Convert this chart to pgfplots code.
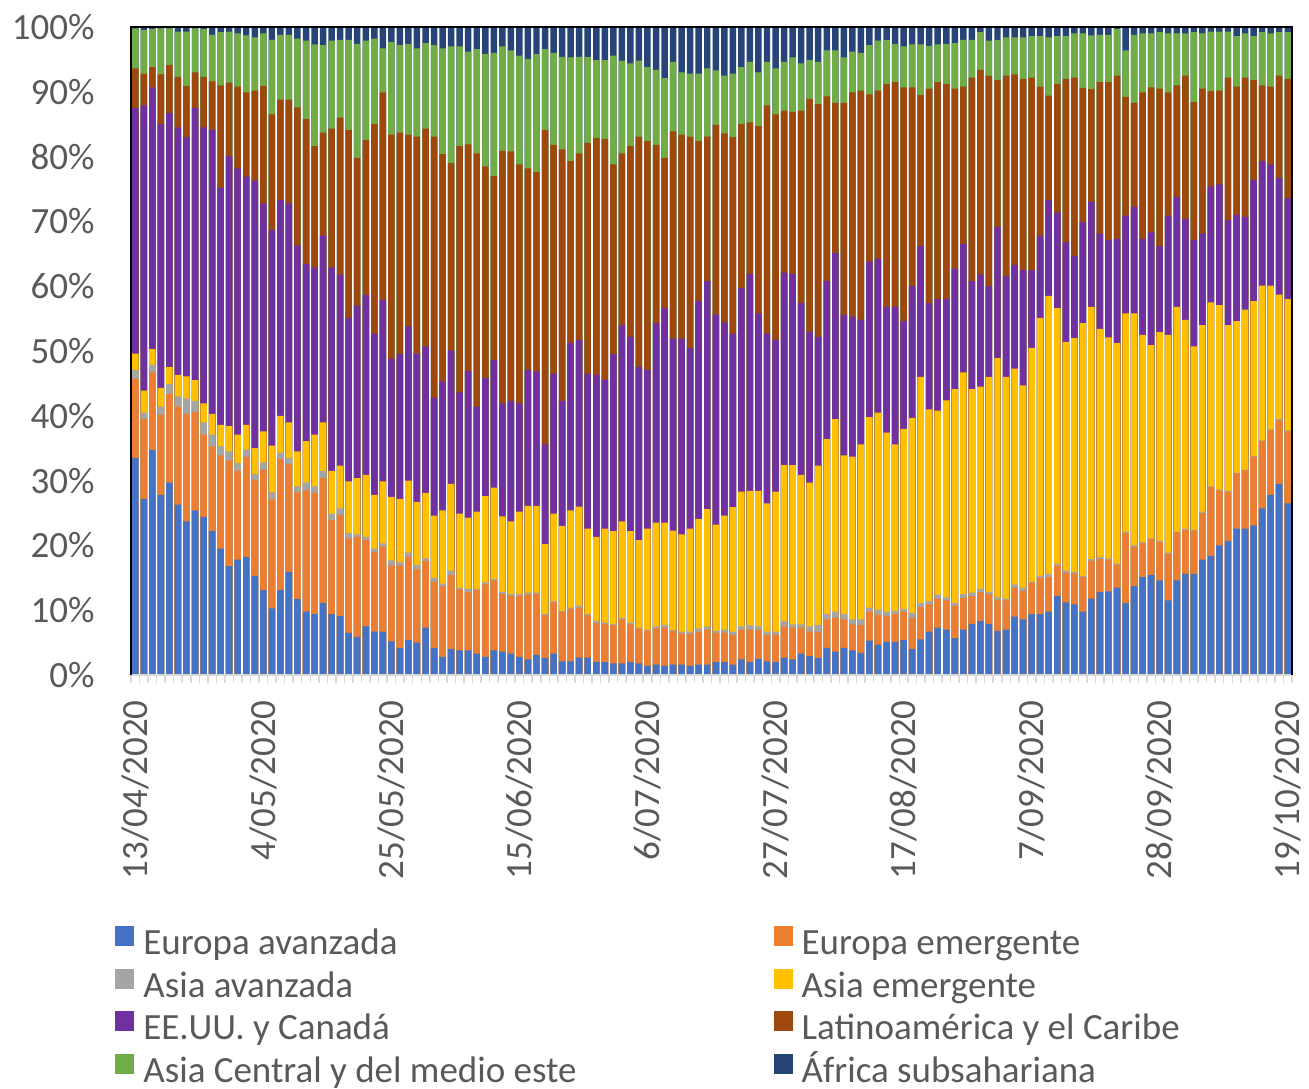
\documentclass[border=0pt]{standalone}
\usepackage{fontspec}
\setmainfont{Carlito}
\usepackage{pgfplots}
\usepackage{pgfplotstable}
\pgfplotsset{compat=1.18}

\definecolor{euav}{HTML}{4472C4}
\definecolor{euem}{HTML}{ED7D31}
\definecolor{asav}{HTML}{A5A5A5}
\definecolor{asem}{HTML}{FFC000}
\definecolor{usca}{HTML}{7030A0}
\definecolor{latam}{HTML}{9E480E}
\definecolor{ascm}{HTML}{70AD47}
\definecolor{afr}{HTML}{264478}
\definecolor{txt}{HTML}{595959}
\definecolor{tickgray}{HTML}{D9D9D9}

% cumulative tops (%) of each band, bottom to top, one row per business day
\pgfplotstableread{
d eav eem aav aem usc lat acm afr
0 33.5 45.7 47.1 49.6 87.5 93.6 99.8 100
1 27.2 39.5 40.5 43.9 87.9 92.8 99.5 100
2 34.7 46.7 47.9 50.3 90.7 93.8 99.7 100
3 27.8 40.2 41.4 44.3 85.0 92.7 99.8 100
4 29.7 43.4 44.9 47.5 86.7 94.1 99.8 100
5 26.3 41.4 43.0 46.3 84.5 92.3 99.3 100
6 23.7 40.3 42.7 46.1 83.0 90.9 99.3 100
7 25.4 40.6 42.3 45.5 87.5 93.0 99.8 100
8 24.4 37.1 39.0 41.9 84.5 92.3 99.7 100
9 22.2 35.3 37.1 40.3 84.1 91.6 98.8 100
10 19.5 33.9 35.3 38.6 75.2 91.0 99.2 100
11 16.8 33.1 34.5 38.4 80.1 91.4 99.3 100
12 17.8 31.5 32.7 37.1 78.2 90.8 99.0 100
13 18.2 33.7 34.8 38.6 76.9 89.9 98.7 100
14 15.3 30.1 31.0 35.0 76.3 90.2 98.4 100
15 13.1 31.7 32.8 37.6 72.8 90.9 99.0 100
16 10.3 27.1 28.2 35.4 68.7 86.5 98.0 100
17 13.1 33.3 34.3 40.0 73.3 88.8 98.8 100
18 15.9 32.5 33.5 39.0 72.8 88.8 98.8 100
19 11.7 28.2 29.1 34.5 66.3 87.6 98.2 100
20 9.8 28.5 29.7 36.1 63.4 85.8 97.9 100
21 9.4 28.1 29.1 37.1 62.9 81.6 97.3 100
22 11.1 30.4 31.5 39.0 67.8 83.7 97.2 100
23 9.4 23.9 24.9 31.5 62.9 84.3 97.9 100
24 9.1 24.7 25.7 32.3 61.8 86.0 98.0 100
25 6.5 21.1 21.9 29.9 55.1 84.1 98.0 100
26 5.9 21.3 21.7 30.4 57.0 79.8 97.4 100
27 7.5 20.8 21.3 30.9 58.7 82.6 97.9 100
28 6.7 19.0 19.5 27.8 52.7 85.0 98.2 100
29 6.7 19.8 20.3 29.9 57.9 89.9 96.7 100
30 5.2 16.9 17.7 27.5 48.8 83.4 97.7 100
31 4.2 16.9 17.4 27.2 49.5 83.7 97.2 100
32 5.4 18.3 18.9 30.0 53.8 83.4 97.4 100
33 5.0 16.3 17.0 26.7 49.6 83.1 96.7 100
34 7.3 17.6 18.0 28.1 50.7 84.3 97.5 100
35 4.2 14.4 15.0 24.6 42.8 83.1 97.2 100
36 2.8 13.7 14.1 25.4 45.3 80.4 96.7 100
37 4.0 15.4 16.1 29.5 50.1 79.0 97.0 100
38 3.8 13.2 13.5 24.9 43.6 81.6 97.0 100
39 3.8 12.8 13.3 24.3 46.9 81.9 96.2 100
40 3.3 13.1 13.3 25.2 41.4 80.5 96.6 100
41 2.8 14.0 14.3 27.6 45.8 78.5 95.8 100
42 3.8 14.6 14.8 28.9 48.6 77.0 96.0 100
43 3.6 12.5 12.8 24.5 41.9 80.9 97.0 100
44 3.3 12.2 12.5 23.7 42.3 80.8 96.4 100
45 2.8 12.2 12.5 25.2 41.9 78.8 95.6 100
46 2.4 12.4 12.7 26.1 47.1 78.2 95.1 100
47 3.1 12.5 12.7 26.1 46.8 77.6 95.8 100
48 2.6 9.2 9.4 20.2 35.6 84.1 96.6 100
49 3.3 11.2 11.4 24.9 46.5 81.8 96.0 100
50 2.1 9.8 9.9 23.0 42.3 81.1 95.4 100
51 2.1 10.2 10.4 25.4 51.2 79.3 95.3 100
52 2.7 10.4 10.7 26.0 51.7 80.5 95.4 100
53 2.7 9.2 9.4 22.6 46.5 82.1 95.4 100
54 2.0 8.0 8.3 21.3 46.3 82.9 94.9 100
55 2.0 7.9 8.1 22.6 45.6 82.7 94.9 100
56 1.8 7.7 7.9 22.2 49.5 78.8 95.6 100
57 1.8 8.6 8.8 23.7 54.0 80.5 94.8 100
58 2.0 7.8 8.1 22.2 52.2 81.6 94.4 100
59 1.8 7.2 7.3 20.8 47.6 83.1 94.8 100
60 1.4 6.8 7.0 22.6 47.1 82.4 93.8 100
61 1.6 7.2 7.5 23.5 54.3 81.8 93.4 100
62 1.4 7.3 7.7 23.5 56.6 79.8 92.1 100
63 1.6 6.8 7.0 22.3 51.9 83.9 94.6 100
64 1.6 6.4 6.7 21.7 51.9 83.4 93.0 100
65 1.4 6.4 6.7 22.6 50.5 83.1 92.8 100
66 1.6 6.7 7.2 24.1 57.7 82.4 92.8 100
67 1.6 7.0 7.5 25.6 60.8 83.1 93.6 100
68 2.0 6.5 6.8 23.2 55.6 84.9 93.3 100
69 2.0 6.5 7.0 24.6 54.4 83.6 92.5 100
70 1.6 6.2 6.7 25.9 52.7 83.0 92.8 100
71 2.4 7.0 7.5 28.3 59.7 85.0 93.8 100
72 2.0 7.0 7.7 28.4 61.9 85.3 94.6 100
73 2.5 7.0 7.5 28.4 55.8 84.7 93.0 100
74 2.1 6.2 6.7 26.5 52.7 87.9 94.6 100
75 2.0 6.2 6.7 28.3 51.7 86.5 93.6 100
76 2.7 7.5 8.3 32.4 62.1 87.1 94.6 100
77 2.4 7.3 7.8 32.4 61.9 86.9 95.3 100
78 3.3 7.3 7.8 30.9 57.4 87.1 94.4 100
79 2.9 6.7 7.5 29.7 53.0 88.9 94.9 100
80 2.6 6.7 7.7 32.3 52.2 88.1 94.6 100
81 4.2 8.6 9.4 36.4 60.8 89.3 96.4 100
82 3.6 8.8 9.8 39.5 65.1 88.3 96.4 100
83 4.2 8.6 9.4 33.9 55.6 88.3 95.3 100
84 3.8 7.8 8.6 33.7 55.3 89.9 96.2 100
85 3.4 7.7 8.6 35.6 54.8 90.2 96.0 100
86 5.3 9.8 10.4 39.8 63.8 89.6 97.2 100
87 4.7 9.3 10.1 40.5 64.2 90.2 97.9 100
88 5.1 9.1 9.8 37.4 56.8 91.2 98.0 100
89 5.1 9.4 9.9 35.6 56.8 91.5 97.4 100
90 5.4 9.8 10.2 38.0 54.6 90.7 97.0 100
91 4.0 8.8 9.6 39.7 60.0 90.7 97.3 100
92 5.5 10.5 11.1 46.0 66.2 89.5 97.3 100
93 6.7 10.9 11.4 41.0 57.4 90.5 97.1 100
94 7.3 11.8 12.4 40.8 58.0 91.5 97.3 100
95 7.0 11.5 12.0 42.4 58.0 91.2 97.4 100
96 5.7 10.7 11.1 44.1 62.7 90.5 97.5 100
97 7.0 11.9 12.5 46.7 66.5 90.8 98.0 100
98 7.9 12.2 12.7 44.1 60.8 92.2 98.0 100
99 8.3 12.8 13.3 44.5 61.8 93.4 99.2 100
100 7.9 12.5 12.8 46.0 60.0 92.5 97.9 100
101 6.8 11.6 12.0 48.9 69.1 91.8 98.0 100
102 7.0 11.5 11.8 46.0 61.6 92.5 98.4 100
103 9.0 13.5 14.0 47.3 63.3 92.7 98.4 100
104 8.6 13.0 13.5 44.7 62.5 92.0 98.4 100
105 9.4 14.2 14.4 50.5 62.5 92.2 98.6 100
106 9.4 15.0 15.3 55.1 67.8 90.8 98.6 100
107 9.8 15.1 15.6 58.5 73.3 89.4 98.4 100
108 12.2 16.9 17.2 56.6 71.4 91.2 98.6 100
109 11.2 15.8 16.1 51.4 66.8 92.0 98.6 100
110 10.9 15.7 15.9 52.0 64.7 92.2 99.0 100
111 9.8 15.1 15.3 54.3 69.9 90.6 99.0 100
112 11.8 17.6 17.9 56.8 73.0 90.4 98.7 100
113 12.8 17.9 18.2 53.4 68.1 91.5 98.8 100
114 12.9 17.8 18.0 52.1 67.1 91.5 98.8 100
115 13.5 17.0 17.2 51.2 67.3 92.5 99.7 100
116 11.1 21.9 22.1 55.8 70.9 89.2 96.4 100
117 13.7 19.8 20.0 55.8 72.3 88.3 98.8 100
118 15.1 20.4 20.5 52.5 67.3 89.9 99.0 100
119 15.4 21.0 21.1 50.9 68.3 90.7 99.0 100
120 14.6 20.5 20.7 52.9 66.2 90.5 99.2 100
121 11.5 18.7 18.9 52.5 70.9 89.9 99.0 100
122 14.6 22.0 22.1 56.8 73.8 91.0 99.0 100
123 15.6 22.4 22.6 54.8 70.4 92.5 99.0 100
124 15.6 22.3 22.4 50.7 67.1 88.4 99.2 100
125 17.8 25.0 25.2 54.0 68.1 90.5 99.0 100
126 18.4 29.0 29.1 57.5 75.4 90.1 99.3 100
127 20.0 28.5 28.6 57.1 75.7 90.2 99.3 100
128 20.7 28.3 28.4 54.0 70.2 92.2 99.3 100
129 22.6 31.1 31.2 54.6 71.0 90.8 98.6 100
130 22.6 31.6 31.7 56.4 70.7 92.2 99.0 100
131 23.1 33.7 33.8 57.7 76.4 91.8 98.6 100
132 25.7 36.1 36.2 60.1 79.3 91.0 99.2 100
133 27.8 37.8 37.9 60.1 78.8 90.8 99.0 100
134 29.5 39.3 39.5 58.7 76.7 92.5 99.2 100
135 26.5 37.6 37.7 58.0 73.6 92.0 99.2 100
}\shares

\begin{document}
\begin{tikzpicture}
\useasboundingbox (-65.5pt,-206.5pt) rectangle (589pt,337.5pt);
\begin{axis}[
    scale only axis,
    width=580.5pt, height=324pt,
    xmin=-0.5, xmax=135.5,
    ymin=0, ymax=100,
    ybar, bar shift=0pt, bar width=0.76,
    axis line style={draw=none},
    xtick pos=bottom, ytick pos=left,
    tick align=outside,
    major tick length=0pt,
    minor tick length=4pt,
    major tick style={draw=none},
    minor tick style={draw=tickgray, line width=0.75pt},
    xtick={0,15,...,135},
    minor xtick={-0.5,0.5,...,135.5},
    xticklabels={13/04/2020,4/05/2020,25/05/2020,15/06/2020,6/07/2020,
                 27/07/2020,17/08/2020,7/09/2020,28/09/2020,19/10/2020},
    ytick={0,10,...,100},
    yticklabels={0\%,10\%,20\%,30\%,40\%,50\%,60\%,70\%,80\%,90\%,100\%},
    ticklabel style={font=\fontsize{18.5}{22}\selectfont, text=txt, inner sep=0pt},
    xticklabel style={rotate=90, anchor=east},
    yticklabel style={anchor=east},
    xticklabel shift=12.5pt,
    yticklabel shift=18pt,
    clip=false,
    legend columns=2,
    legend cell align=left,
    legend image code/.code={\fill[#1, draw=none] (0pt,0pt) rectangle (9.5pt,10pt);},
    legend style={
        at={(axis description cs:-0.0138,-0.387)}, anchor=north west,
        draw=none, fill=none, inner sep=0pt,
        font=\fontsize{18.5}{22}\selectfont, text=txt,
        nodes={inner xsep=4.5pt, inner ysep=0pt, text height=13pt, text depth=4.5pt},
        row sep=2.5pt,
        /tikz/every even column/.append style={column sep=94pt},
    },
]
\addplot[fill=afr, draw=none, forget plot] table[x=d, y=afr] {\shares};
\addplot[fill=ascm, draw=none, forget plot] table[x=d, y=acm] {\shares};
\addplot[fill=latam, draw=none, forget plot] table[x=d, y=lat] {\shares};
\addplot[fill=usca, draw=none, forget plot] table[x=d, y=usc] {\shares};
\addplot[fill=asem, draw=none, forget plot] table[x=d, y=aem] {\shares};
\addplot[fill=asav, draw=none, forget plot] table[x=d, y=aav] {\shares};
\addplot[fill=euem, draw=none, forget plot] table[x=d, y=eem] {\shares};
\addplot[fill=euav, draw=none, forget plot] table[x=d, y=eav] {\shares};

% frame: grey category axis at the bottom, black on the other three sides
\draw[tickgray, line width=0.75pt] (rel axis cs:0,0) -- (rel axis cs:1,0);
\draw[black, line width=1pt] (rel axis cs:0,0) -- (rel axis cs:0,1)
    -- (rel axis cs:1,1) -- (rel axis cs:1,0);

\addlegendimage{fill=euav}\addlegendentry{Europa avanzada}
\addlegendimage{fill=euem}\addlegendentry{Europa emergente}
\addlegendimage{fill=asav}\addlegendentry{Asia avanzada}
\addlegendimage{fill=asem}\addlegendentry{Asia emergente}
\addlegendimage{fill=usca}\addlegendentry{EE.UU. y Canadá}
\addlegendimage{fill=latam}\addlegendentry{Latinoamérica y el Caribe}
\addlegendimage{fill=ascm}\addlegendentry{Asia Central y del medio este}
\addlegendimage{fill=afr}\addlegendentry{África subsahariana}
\end{axis}
\end{tikzpicture}
\end{document}
